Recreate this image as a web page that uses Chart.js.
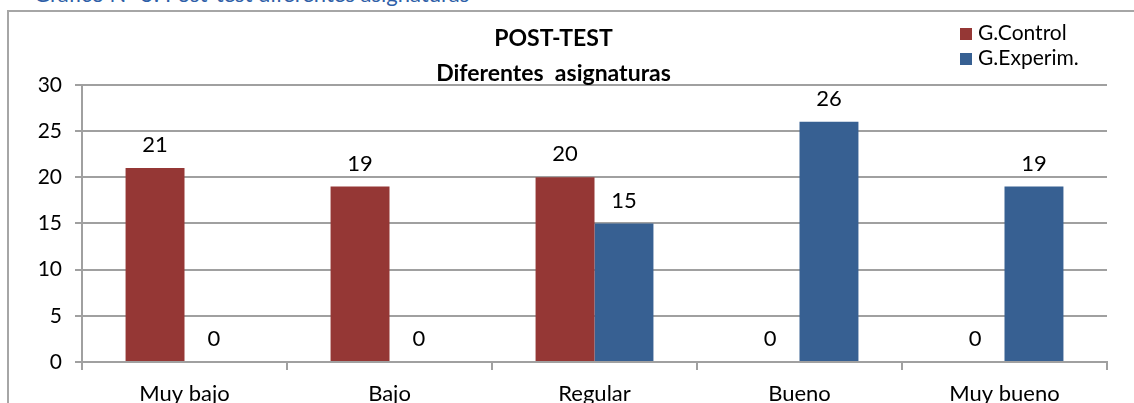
<!DOCTYPE html>
<html>
<head>
<meta charset="utf-8">
<script src="https://cdn.jsdelivr.net/npm/chart.js@4.4.1/dist/chart.umd.min.js"></script>
<style>
  html, body { margin: 0; padding: 0; background: #fff; overflow: hidden; }
  #wrap { position: relative; width: 1134px; height: 403px; overflow: hidden; font-family: Lato, "Noto Sans", sans-serif; }
  #caption { position: absolute; left: 34px; top: -16px; font-size: 22px; line-height: 20px; color: #2f5fa8; white-space: nowrap; }
  #frame { position: absolute; left: 7px; top: 10px; width: 1140px; height: 410px; border-top: 2px solid #a6a6a6; border-left: 2px solid #a6a6a6; box-sizing: border-box; }
  #legend { position: absolute; left: 960px; top: 21px; font-size: 21px; color: #000; }
  #legend div { height: 25px; line-height: 22px; white-space: nowrap; }
  #legend span.box { display: inline-block; width: 12px; height: 12px; margin-right: 6px; vertical-align: 0px; }
  canvas { position: absolute; left: 0; top: 0; }
</style>
</head>
<body>
<div id="wrap">
  <div id="caption">Gráfico N° 5: Post-test diferentes asignaturas</div>
  <div id="frame"></div>
  <canvas id="chart" width="1134" height="403"></canvas>
  <div id="legend"></div>
</div>
<script>
// categories and series
const categories = ['Muy bajo', 'Bajo', 'Regular', 'Bueno', 'Muy bueno'];
const controlValues = [21, 19, 20, 0, 0];
const experimValues = [0, 0, 15, 26, 19];
const seriesNames = ['G.Control', 'G.Experim.'];
const titleLines = ['POST-TEST', 'Diferentes  asignaturas'];
const yTicks = [0, 5, 10, 15, 20, 25, 30];

const FONT = 'Lato, "Noto Sans", sans-serif';
const RED = '#953735';
const BLUE = '#376092';
const GRID = '#a0a0a0';

// value labels above each bar (also shows the zeros)
const valueLabels = {
  id: 'valueLabels',
  afterDatasetsDraw(chart) {
    const ctx = chart.ctx;
    ctx.save();
    ctx.font = '22px ' + FONT;
    ctx.fillStyle = '#000';
    ctx.textAlign = 'center';
    ctx.textBaseline = 'middle';
    chart.data.datasets.forEach((ds, i) => {
      chart.getDatasetMeta(i).data.forEach((bar, j) => {
        ctx.fillText(String(ds.data[j]), bar.x, bar.y - 23);
      });
    });
    ctx.restore();
  }
};

const chart = new Chart(document.getElementById('chart'), {
  type: 'bar',
  data: {
    labels: categories,
    datasets: [
      { label: seriesNames[0], data: controlValues, backgroundColor: RED },
      { label: seriesNames[1], data: experimValues, backgroundColor: BLUE }
    ]
  },
  options: {
    responsive: false,
    animation: false,
    events: [],
    layout: { padding: { left: 0, right: 27, top: 0, bottom: 0 } },
    datasets: { bar: { categoryPercentage: 0.575, barPercentage: 1.0 } },
    plugins: {
      legend: { display: false },
      tooltip: { enabled: false },
      title: {
        display: true,
        text: titleLines,
        color: '#000',
        font: { family: FONT, size: 23, weight: 'bold', lineHeight: 1.52 },
        padding: { top: 21, bottom: -6 }
      }
    },
    scales: {
      x: {
        afterFit: s => { s.height = 41; },
        grid: { offset: true, drawOnChartArea: false, color: GRID, lineWidth: 2, tickLength: 8 },
        border: { color: GRID, width: 2 },
        ticks: { color: '#000', font: { family: FONT, size: 22 }, padding: 11 }
      },
      y: {
        min: 0,
        max: 30,
        afterFit: s => { s.width = 82; },
        afterBuildTicks: s => { s.ticks = yTicks.map(v => ({ value: v })); },
        grid: { color: GRID, lineWidth: 2, tickLength: 7 },
        border: { color: GRID, width: 2 },
        ticks: { color: '#000', font: { family: FONT, size: 21 }, padding: 13 }
      }
    }
  },
  plugins: [valueLabels]
});

// legend built from the datasets
const legend = document.getElementById('legend');
chart.data.datasets.forEach(ds => {
  const row = document.createElement('div');
  row.innerHTML = '<span class="box" style="background:' + ds.backgroundColor + '"></span>' + ds.label;
  legend.appendChild(row);
});
</script>
</body>
</html>
